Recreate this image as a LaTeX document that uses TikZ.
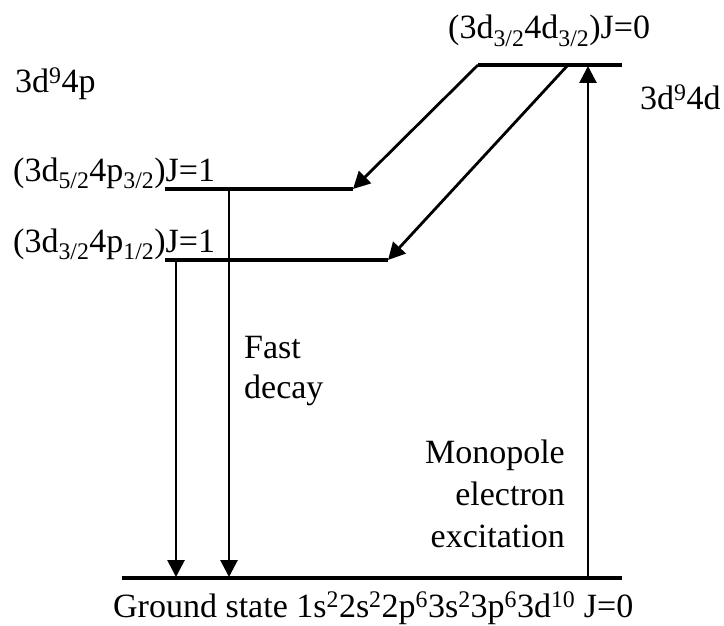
\documentclass[tikz,border=0pt]{standalone}
\usepackage{fontspec}
\setmainfont{Liberation Serif}
\usetikzlibrary{arrows.meta}
\begin{document}
\begin{tikzpicture}[x=1pt,y=-1pt,
  lvl/.style={line width=3.2pt},
  arr/.style={line width=2.8pt,-{Triangle[length=17pt,width=17pt]}},
  lab/.style={font=\fontsize{34}{42}\selectfont,inner sep=0pt}]
\useasboundingbox (0,0) rectangle (724,626);
% levels
\coordinate (tL) at (478,65); \coordinate (tR) at (622,65);
\coordinate (aL) at (165,189); \coordinate (aR) at (353,189);
\coordinate (bL) at (165,260); \coordinate (bR) at (388,260);
\coordinate (gL) at (122,578); \coordinate (gR) at (622,578);
\draw[lvl] (tL) -- (tR);
\draw[lvl] (aL) -- (aR);
\draw[lvl] (bL) -- (bR);
\draw[lvl] (gL) -- (gR);
% arrows
\coordinate (t2) at (568,65);
\draw[arr] (tL) -- (aR);
\draw[arr] (t2) -- (bR);
\coordinate (d1t) at (176,260); \coordinate (d1b) at (176,577);
\coordinate (d2t) at (229,189); \coordinate (d2b) at (229,577);
\draw[arr] (d1t) -- (d1b);
\draw[arr] (d2t) -- (d2b);
\coordinate (ub) at (588,578); \coordinate (ut) at (588,66);
\draw[arr] (ub) -- (ut);
% labels
\node[lab,anchor=base west] (ttop) at (448,39) {(3d\textsubscript{3/2}4d\textsubscript{3/2})J=0};
\node[lab,anchor=base west] (p4) at (15,93) {3d\textsuperscript{9}4p};
\node[lab,anchor=base west] (d4) at (640,110) {3d\textsuperscript{9}4d};
\node[lab,anchor=base west] (la) at (13,181) {(3d\textsubscript{5/2}4p\textsubscript{3/2})J=1};
\node[lab,anchor=base west] (lb) at (13,252) {(3d\textsubscript{3/2}4p\textsubscript{1/2})J=1};
\node[lab,anchor=base west] (fd1) at (244,358) {Fast};
\node[lab,anchor=base west] (fd2) at (244,398) {decay};
\node[lab,anchor=base east] (mo1) at (565,463) {Monopole};
\node[lab,anchor=base east] (mo2) at (565,505) {electron};
\node[lab,anchor=base east] (mo3) at (565,547) {excitation};
\node[lab,anchor=base west] (gs) at (113,617) {Ground state 1s\textsuperscript{2}2s\textsuperscript{2}2p\textsuperscript{6}3s\textsuperscript{2}3p\textsuperscript{6}3d\textsuperscript{10} J=0};
\end{tikzpicture}
\end{document}
